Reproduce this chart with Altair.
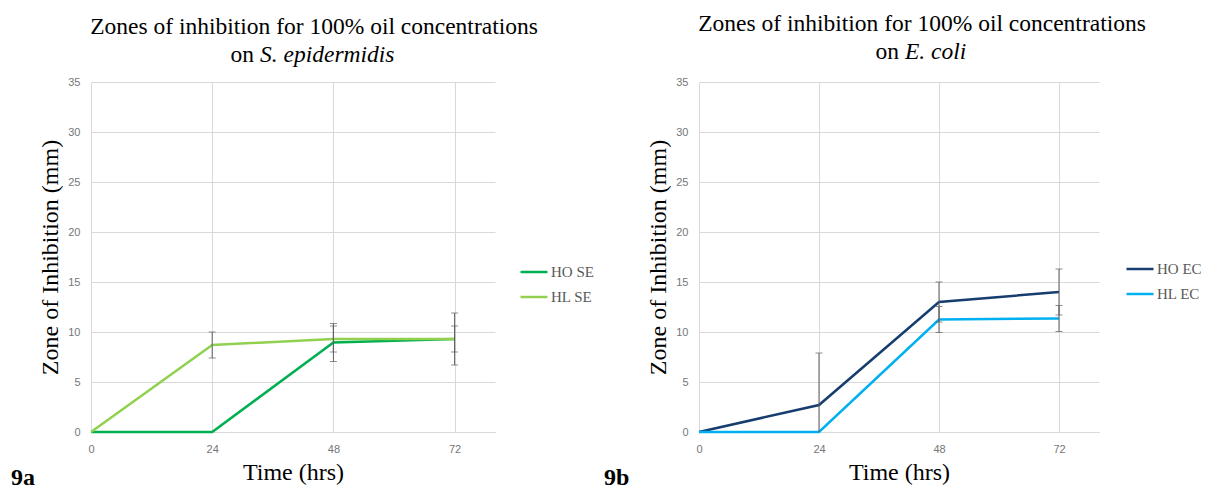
import altair as alt
import pandas as pd

# ---------------- data ----------------
time_hrs = [0, 24, 48, 72]
x_ticks = [0, 24, 48, 72]
y_ticks = [0, 5, 10, 15, 20, 25, 30, 35]

series_a = ["HO SE", "HL SE"]
ho_se = [0, 0, 8.95, 9.3]
hl_se = [0, 8.7, 9.3, 9.3]
ho_se_err = [0, 0, 1.9, 2.6]
hl_se_err = [0, 1.3, 1.3, 1.3]
colors_a = ["#00b050", "#92d050"]

series_b = ["HO EC", "HL EC"]
ho_ec = [0, 2.7, 13.0, 14.0]
hl_ec = [0, 0, 11.25, 11.35]
ho_ec_err = [0, 5.2, 2.0, 2.3]
hl_ec_err = [0, 0, 1.3, 1.3]
colors_b = ["#163d6e", "#00b0f0"]

title_line1 = "Zones of inhibition for 100% oil concentrations"
organism_a = "S. epidermidis"
organism_b = "E. coli"

SERIF = "Liberation Serif, Times New Roman, serif"
SANS = "Liberation Sans"
ERR_COLOR = "#5f5f5f"


def make_df(names, vals, errs):
    rows = []
    for name, v, e in zip(names, vals, errs):
        for t, vi, ei in zip(time_hrs, v, e):
            rows.append({"time": t, "series": name, "value": vi, "err": ei,
                         "lo": vi - ei, "hi": vi + ei})
    return pd.DataFrame(rows)


def xenc():
    return alt.X("time:Q", scale=alt.Scale(domain=[0, 80], nice=False),
                 axis=alt.Axis(values=x_ticks, title="Time (hrs)", grid=True,
                               domain=True, domainColor="#d9d9d9", ticks=False,
                               labelPadding=11, titlePadding=6,
                               labelFlush=False))


def yenc(field):
    return alt.Y(field, scale=alt.Scale(domain=[0, 35], nice=False),
                 axis=alt.Axis(values=y_ticks, title="Zone of Inhibition (mm)",
                               grid=True, domain=False, ticks=False,
                               labelPadding=11, titlePadding=5))


def text_layer(txt, x, y, align, size=23.5, style="normal", weight="normal"):
    return alt.Chart(pd.DataFrame({"t": [txt]})).mark_text(
        font=SERIF, fontSize=size, fontStyle=style, fontWeight=weight,
        align=align, baseline="alphabetic", color="#000000"
    ).encode(x=alt.value(x), y=alt.value(y), text="t:N")


def panel(names, vals, errs, colors, organism, tag, tag_x, w, h, on_right, it_left,
          legx, legy, title_dy):
    df = make_df(names, vals, errs)
    err_df = df[df["err"] > 0]

    lines = alt.Chart(df).mark_line(strokeWidth=2.5).encode(
        x=xenc(), y=yenc("value:Q"),
        color=alt.Color("series:N", scale=alt.Scale(domain=names, range=colors),
                        sort=names,
                        legend=alt.Legend(orient="none", legendX=legx, legendY=legy,
                                          title=None, labelFont=SERIF,
                                          labelFontSize=15, labelColor="#595959",
                                          symbolType="stroke", symbolSize=729,
                                          symbolStrokeWidth=2.5, labelOffset=2,
                                          rowPadding=2, padding=0)),
    )
    bars = alt.Chart(err_df).mark_rule(color=ERR_COLOR, strokeWidth=1, clip=True).encode(
        x=xenc(), y=yenc("lo:Q"), y2="hi:Q")
    caps = alt.Chart(err_df).transform_fold(["lo", "hi"], as_=["end", "cap"]).mark_tick(
        orient="horizontal", size=7, thickness=1, color=ERR_COLOR, clip=True).encode(
        x=xenc(), y=yenc("cap:Q"))

    t1 = text_layer(title_line1, 223, -48 + title_dy, "center")
    t2 = text_layer("on", on_right, -20 + title_dy, "right")
    t3 = text_layer(organism, it_left, -20 + title_dy, "left", style="italic")
    lab = text_layer(tag, tag_x, h + 53, "left", size=24, weight="bold")

    return alt.layer(lines, bars, caps, t1, t2, t3, lab).properties(width=w, height=h)


pa = panel(series_a, [ho_se, hl_se], [ho_se_err, hl_se_err], colors_a, organism_a, "9a", -80,
           404, 350, 163, 169, 428, 175, 0)
pb = panel(series_b, [ho_ec, hl_ec], [ho_ec_err, hl_ec_err], colors_b, organism_b, "9b", -95,
           400, 350, 200, 206, 426, 172, -3)

chart = alt.hconcat(pa, pb, spacing=10).resolve_scale(color="independent").resolve_legend(
    color="independent").properties(
    padding={"left": 3, "top": 4, "right": 0, "bottom": 0}
).configure_view(stroke=None).configure_axis(
    gridColor="#d9d9d9", gridWidth=1,
    labelFont=SANS, labelFontSize=11, labelColor="#767676",
    titleFont=SERIF, titleFontSize=24, titleFontWeight="normal", titleColor="#000000",
).configure_text(font=SERIF).configure_legend(labelLimit=200)

chart.save("out.html", embed_options={"renderer": "svg", "actions": False})
